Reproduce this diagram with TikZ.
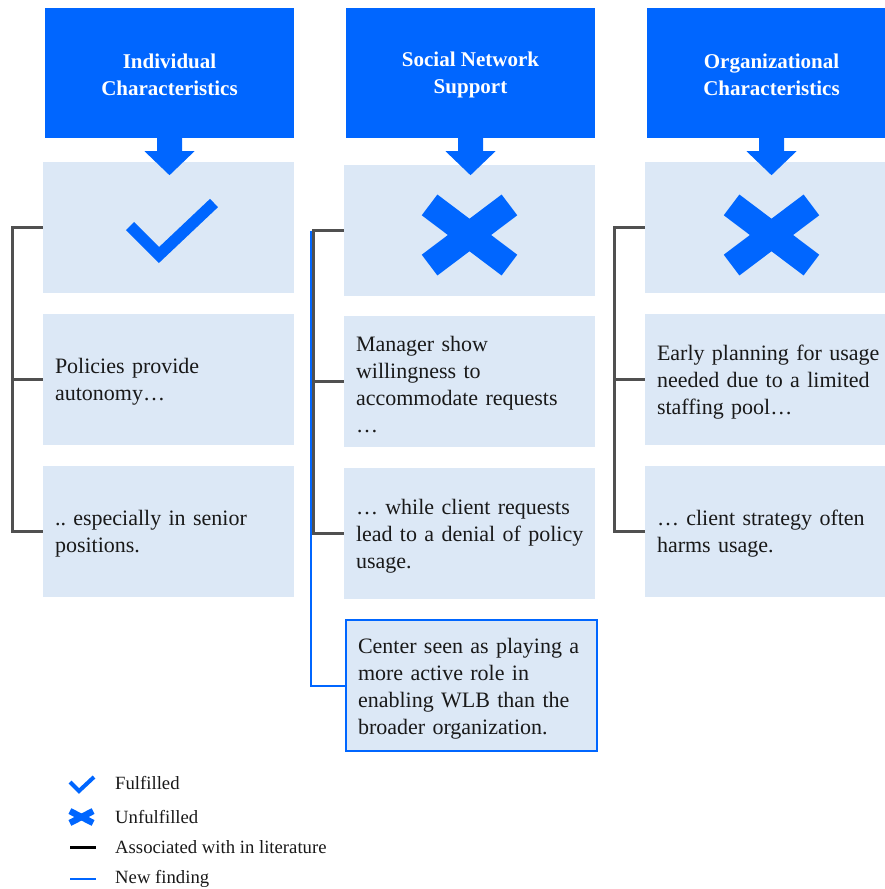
\documentclass[tikz,border=0pt]{standalone}
\usepackage{fontspec}
\setmainfont{Liberation Serif}
\definecolor{hdrblue}{RGB}{0,102,255}
\definecolor{cellblue}{RGB}{220,232,246}
\definecolor{linkgray}{RGB}{80,80,80}
\definecolor{inktext}{RGB}{25,25,25}
\newcommand{\firstlinelift}{\rule{0pt}{21pt}}
\newcommand{\headlift}{\rule{0pt}{19pt}}
\tikzset{
  header/.style={fill=hdrblue, text=white, minimum width=249pt, minimum height=130pt,
    align=center, font=\fontsize{21}{27}\selectfont\bfseries, inner sep=0pt},
  iconbox/.style={fill=cellblue, minimum width=251pt, minimum height=131pt, inner sep=0pt},
  textbox/.style={fill=cellblue, minimum width=251pt, minimum height=131pt, text width=227pt,
    inner xsep=12pt, inner ysep=0pt, align=left, text=inktext,
    font=\fontsize{22}{27}\selectfont},
  newbox/.style={textbox, draw=hdrblue, line width=1.3pt},
  litline/.style={draw=linkgray, line width=3pt},
  newline/.style={draw=hdrblue, line width=2pt},
  legendtext/.style={anchor=base west, inner sep=0pt, text=inktext, font=\fontsize{18.7}{21}\selectfont},
  pics/xmark/.style n args={3}{code={
    \fill[hdrblue, rotate=#1] (-#2,-#3) rectangle (#2,#3);
    \fill[hdrblue, rotate=-#1] (-#2,-#3) rectangle (#2,#3);
  }}
}
\begin{document}
\frenchspacing
\hyphenpenalty=10000
\exhyphenpenalty=10000
\hfuzz=20pt
\begin{tikzpicture}[x=1pt,y=-1pt]
\useasboundingbox (0,0) rectangle (885,889);

% column headers (the strut sets the two lines a little lower)
\node[header] (h1) at (169.5,73) {\headlift Individual\\Characteristics};
\node[header] (h2) at (470.5,73) {\headlift Social Network\\Support};
\node[header] (h3) at (771.5,73) {\headlift Organizational\\Characteristics};

% status boxes
\node[iconbox] (s1) at (168.5,227.5) {};
\node[iconbox] (s2) at (469.5,230.5) {};
\node[iconbox] (s3) at (770.5,227.5) {};

% finding boxes (the strut on the first line sets the text a little lower)
\node[textbox] (a1) at (168.5,379) {\firstlinelift Policies provide\\autonomy…};
\node[textbox] (b1) at (168.5,531) {\firstlinelift .. especially in senior\\positions.};
\node[textbox] (a2) at (469.5,381.5) {\firstlinelift Manager show\\willingness to\\accommodate requests\\…};
\node[textbox] (b2) at (469.5,533.5) {\firstlinelift … while client requests\\lead~to~a~denial~of~policy\\usage.};
\node[textbox] (a3) at (770.5,379) {\firstlinelift Early~planning~for~usage\\needed due to a limited\\staffing pool…};
\node[textbox] (b3) at (770.5,531) {\firstlinelift … client strategy often\\harms usage.};
\node[newbox] (n2) at (471.5,685.5) {\firstlinelift Center seen as playing a\\more active role in\\enabling WLB than the\\broader organization.};

% arrows from headers to status boxes
\foreach \h in {h1,h2,h3}{
  \fill[hdrblue] ([xshift=-12.5pt]\h.south) -- ++(0,13) -- ++(-12.5,0) -- ++(25,24)
    -- ++(25,-24) -- ++(-12.5,0) -- ++(0,-13) -- cycle;
}

% status icons
\begin{scope}[shift={(s1.center)}]
  \draw[hdrblue, line width=11.5pt, miter limit=4] (-38.5,-1.5) -- (-9.5,27.5) -- (45.5,-24.5);
\end{scope}
\pic at ([yshift=-4.5pt]s2.center) {xmark={37}{50}{13}};
\pic at ([xshift=1pt,yshift=-7.5pt]s3.center) {xmark={37}{50}{13}};

% spine positions of the brackets
\coordinate (k1) at (12,0);
\coordinate (k2) at (313,0);
\coordinate (k2n) at (311,0);
\coordinate (k3) at (614,0);

% new finding link (drawn first, under the gray spine)
\draw[newline] (s2.west -| k2n) |- (n2.west);

% links associated in literature
\draw[litline] (s1.west) -- (s1.west -| k1) |- (b1.west);
\draw[litline] (a1.west -| k1) -- (a1.west);
\draw[litline] (s2.west) -- (s2.west -| k2) |- (b2.west);
\draw[litline] (a2.west -| k2) -- (a2.west);
\draw[litline] (s3.west) -- (s3.west -| k3) |- (b3.west);
\draw[litline] (a3.west -| k3) -- (a3.west);

% legend
\draw[hdrblue, line width=4pt, miter limit=4] (70,782) -- (79,791) -- (94,777);
\node[legendtext] (l1) at (115,789) {Fulfilled};
\pic at (81.5,817) {xmark={27}{13}{3.2}};
\node[legendtext] (l2) at (115,823) {Unfulfilled};
\coordinate (m3a) at (70,847);
\coordinate (m3b) at (96,847);
\draw[black, line width=3pt] (m3a) -- (m3b);
\node[legendtext] (l3) at (115,853) {Associated with in literature};
\coordinate (m4a) at (70,879);
\coordinate (m4b) at (96,879);
\draw[hdrblue, line width=2.5pt] (m4a) -- (m4b);
\node[legendtext] (l4) at (115,883.5) {New finding};
\end{tikzpicture}
\end{document}
